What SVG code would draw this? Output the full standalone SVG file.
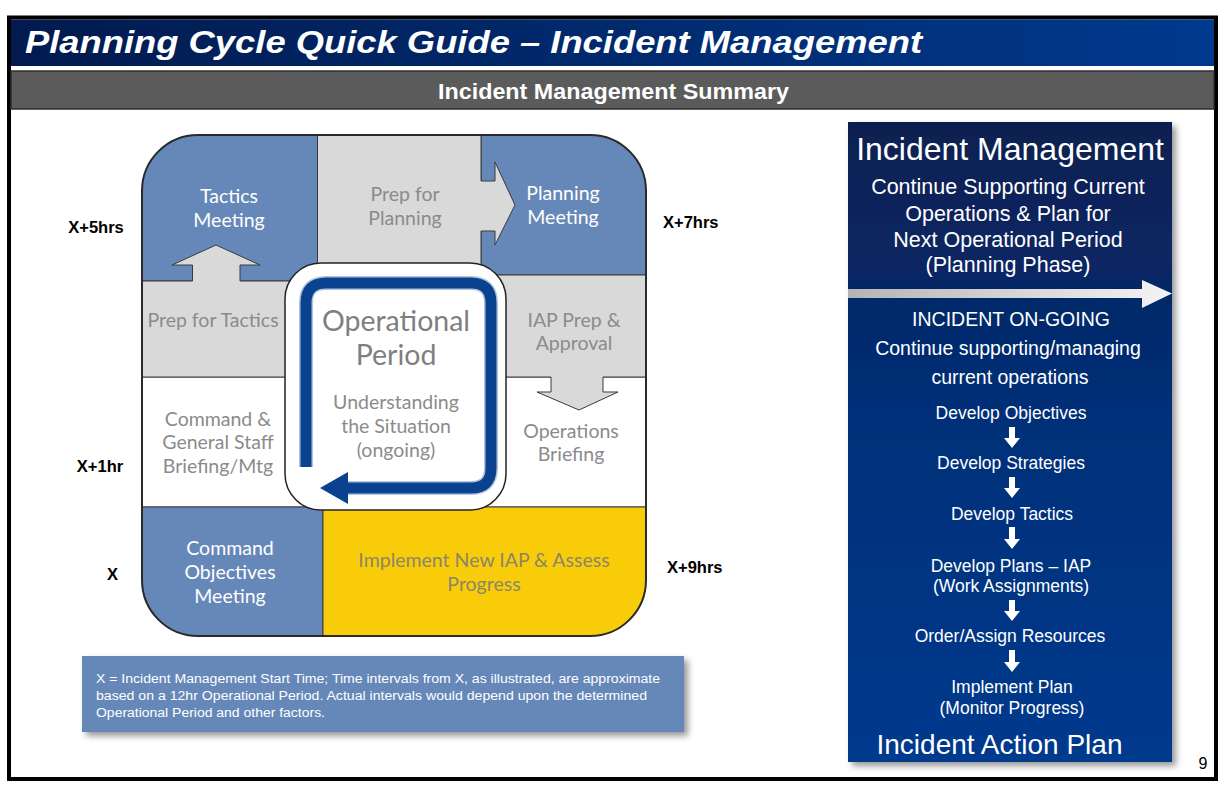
<svg xmlns="http://www.w3.org/2000/svg" width="1224" height="792" viewBox="0 0 1224 792">
<defs>
  <linearGradient id="gTitle" x1="0" y1="0" x2="1" y2="0">
    <stop offset="0" stop-color="#021a4e"/>
    <stop offset="1" stop-color="#003a8e"/>
  </linearGradient>
  <linearGradient id="gPanel" x1="0" y1="0" x2="0" y2="1">
    <stop offset="0" stop-color="#0c1f4f"/>
    <stop offset="0.45" stop-color="#022f78"/>
    <stop offset="1" stop-color="#003a8e"/>
  </linearGradient>
  <linearGradient id="gArrow" x1="0" y1="0" x2="1" y2="0">
    <stop offset="0" stop-color="#b4b4b4"/>
    <stop offset="1" stop-color="#f4f4f4"/>
  </linearGradient>
  <filter id="sh" x="-10%" y="-10%" width="125%" height="125%">
    <feDropShadow dx="4" dy="4" stdDeviation="3" flood-color="#000" flood-opacity="0.4"/>
  </filter>
  <clipPath id="clipCycle">
    <rect x="142" y="135" width="504" height="501" rx="56"/>
  </clipPath>
  <style>
    .cell { stroke: #3a3a3a; stroke-width: 1; }
    .blue { fill: #6688b8; }
    .grey { fill: #d9d9d9; }
    .white { fill: #ffffff; }
    .yellow { fill: #f9cc0a; }
    .lbl { font-family: Lato, "Noto Sans", sans-serif; font-size: 19.5px; text-anchor: middle; }
    .lg { fill: #8b8b8b; }
    .lw { fill: #ffffff; }
    .ly { fill: #8c8668; }
    .time { font-family: "Liberation Sans", Arial, sans-serif; font-weight: bold; font-size: 16.5px; fill: #000; }
    .pt { font-family: "Liberation Sans", Arial, sans-serif; fill: #ffffff; text-anchor: middle; }
    .dn { fill: #ffffff; }
  </style>
</defs>

<!-- page frame -->
<rect x="0" y="0" width="1224" height="792" fill="#ffffff"/>
<g id="frame">
  <rect x="9" y="17.5" width="1207" height="761.5" fill="#ffffff" stroke="#000" stroke-width="4"/>
  <rect x="11" y="19.5" width="1203" height="46.5" fill="url(#gTitle)"/>
  <text x="25" y="53" font-family="'Liberation Sans', Arial, sans-serif" font-weight="bold" font-style="italic" font-size="31" fill="#fff" textLength="897" lengthAdjust="spacingAndGlyphs">Planning Cycle Quick Guide – Incident Management</text>
  <rect x="11" y="71" width="1203" height="38" fill="#5b5b5b" stroke="#2f2f2f" stroke-width="1.5"/>
  <text x="613.5" y="99" font-family="'Liberation Sans', Arial, sans-serif" font-weight="bold" font-size="21.5" fill="#fff" text-anchor="middle" textLength="351" lengthAdjust="spacingAndGlyphs">Incident Management Summary</text>
  <text x="1203" y="769" font-family="'Liberation Sans', Arial, sans-serif" font-size="16" fill="#000" text-anchor="middle">9</text>
</g>

<!-- planning cycle -->
<g id="cycle">
  <g clip-path="url(#clipCycle)">
    <rect class="cell white" x="142" y="377" width="504" height="130"/>
    <rect class="cell blue" x="142" y="135" width="175.5" height="146"/>
    <rect class="cell blue" x="481" y="135" width="165" height="140"/>
    <rect class="cell blue" x="142" y="507" width="181" height="129"/>
    <rect class="cell yellow" x="323" y="507" width="323" height="129"/>
    <polygon class="cell grey" points="317.5,135 481,135 481,181 495,181 495,162 515,205 495,245 495,231 481,231 481,290 317.5,290"/>
    <polygon class="cell grey" points="142,281 192.5,281 192.5,265 172,265 216,245 260,265 240,265 240,281 300,281 300,377 142,377"/>
    <polygon class="cell grey" points="490,275 646,275 646,377 603,377 603,392 618,392 579,410 537,392 551,392 551,377 490,377"/>
  </g>
  <rect x="142" y="135" width="504" height="501" rx="56" fill="none" stroke="#2a2a2a" stroke-width="2"/>
</g>

<g id="node-tactics-meeting">
  <text class="lbl lw" x="229" y="203">Tactics</text>
  <text class="lbl lw" x="229" y="227">Meeting</text>
</g>
<g id="node-prep-planning">
  <text class="lbl lg" x="405" y="201">Prep for</text>
  <text class="lbl lg" x="405" y="225">Planning</text>
</g>
<g id="node-planning-meeting">
  <text class="lbl lw" x="563" y="200">Planning</text>
  <text class="lbl lw" x="563" y="224">Meeting</text>
</g>
<g id="node-prep-tactics">
  <text class="lbl lg" x="213" y="327">Prep for Tactics</text>
</g>
<g id="node-iap-prep">
  <text class="lbl lg" x="574" y="327">IAP Prep &amp;</text>
  <text class="lbl lg" x="574" y="350">Approval</text>
</g>
<g id="node-cgs-briefing">
  <text class="lbl lg" x="218" y="426">Command &amp;</text>
  <text class="lbl lg" x="218" y="449">General Staff</text>
  <text class="lbl lg" x="218" y="473">Briefing/Mtg</text>
</g>
<g id="node-ops-briefing">
  <text class="lbl lg" x="571" y="438">Operations</text>
  <text class="lbl lg" x="571" y="461">Briefing</text>
</g>
<g id="node-command-objectives">
  <text class="lbl lw" x="230" y="555">Command</text>
  <text class="lbl lw" x="230" y="579">Objectives</text>
  <text class="lbl lw" x="230" y="603">Meeting</text>
</g>
<g id="node-implement">
  <text class="lbl ly" x="484" y="567">Implement New IAP &amp; Assess</text>
  <text class="lbl ly" x="484" y="591">Progress</text>
</g>

<g id="node-operational-period">
  <rect x="285" y="263" width="221" height="247" rx="36" fill="#ffffff" stroke="#222" stroke-width="1.5"/>
  <path d="M306,467 V303 Q306,283 326,283 H471 Q491,283 491,303 V468 Q491,488 471,488 H344" fill="none" stroke="#7d9bc8" stroke-width="14" stroke-opacity="0.6"/>
  <path d="M306,467 V303 Q306,283 326,283 H471 Q491,283 491,303 V468 Q491,488 471,488 H344" fill="none" stroke="#0a4290" stroke-width="11"/>
  <polygon points="348,472 320,488 348,504" fill="#0a4290"/>
  <text x="396" y="331" font-family="Lato, 'Noto Sans', sans-serif" font-size="28.5" fill="#7f7f7f" text-anchor="middle">Operational</text>
  <text x="396" y="365" font-family="Lato, 'Noto Sans', sans-serif" font-size="28.5" fill="#7f7f7f" text-anchor="middle">Period</text>
  <text class="lbl lg" x="396" y="409">Understanding</text>
  <text class="lbl lg" x="396" y="433">the Situation</text>
  <text class="lbl lg" x="396" y="457">(ongoing)</text>
</g>

<g id="time-labels">
  <text class="time" x="96" y="233" text-anchor="middle">X+5hrs</text>
  <text class="time" x="100" y="472" text-anchor="middle">X+1hr</text>
  <text class="time" x="112.5" y="580" text-anchor="middle">X</text>
  <text class="time" x="663" y="228">X+7hrs</text>
  <text class="time" x="667" y="573">X+9hrs</text>
</g>

<g id="footnote">
  <rect x="82" y="656" width="602" height="76" fill="#6688b8" filter="url(#sh)"/>
  <text x="96" y="683" font-family="'Liberation Sans', Arial, sans-serif" font-size="12.5" fill="#fff" textLength="564" lengthAdjust="spacingAndGlyphs">X = Incident Management Start Time; Time intervals from X, as illustrated, are approximate</text>
  <text x="96" y="700" font-family="'Liberation Sans', Arial, sans-serif" font-size="12.5" fill="#fff" textLength="551" lengthAdjust="spacingAndGlyphs">based on a 12hr Operational Period.  Actual intervals would depend upon the determined</text>
  <text x="96" y="717" font-family="'Liberation Sans', Arial, sans-serif" font-size="12.5" fill="#fff" textLength="229" lengthAdjust="spacingAndGlyphs">Operational Period and other factors.</text>
</g>

<g id="panel">
  <rect x="848" y="122" width="324" height="640" fill="url(#gPanel)" filter="url(#sh)"/>
  <text class="pt" x="1010" y="160" font-size="32">Incident Management</text>
  <text class="pt" x="1008" y="194" font-size="21.5">Continue Supporting Current</text>
  <text class="pt" x="1008" y="221" font-size="21.5">Operations &amp; Plan for</text>
  <text class="pt" x="1008" y="247" font-size="21.5">Next Operational Period</text>
  <text class="pt" x="1008" y="272" font-size="21.5">(Planning Phase)</text>
  <polygon points="848,289 1142,289 1142,280 1172,293.5 1142,308 1142,298 848,298" fill="url(#gArrow)"/>
  <text class="pt" x="1011" y="326" font-size="19.5">INCIDENT ON-GOING</text>
  <text class="pt" x="1008" y="355" font-size="19.5">Continue supporting/managing</text>
  <text class="pt" x="1010" y="384" font-size="19.5">current operations</text>
  <text class="pt" x="1011" y="419" font-size="17.5">Develop Objectives</text>
  <text class="pt" x="1011" y="469" font-size="17.5">Develop Strategies</text>
  <text class="pt" x="1012" y="520" font-size="17.5">Develop Tactics</text>
  <text class="pt" x="1011" y="572" font-size="17.5">Develop Plans – IAP</text>
  <text class="pt" x="1011" y="592" font-size="17.5">(Work Assignments)</text>
  <text class="pt" x="1010" y="642" font-size="17.5">Order/Assign Resources</text>
  <text class="pt" x="1012" y="693" font-size="17.5">Implement Plan</text>
  <text class="pt" x="1012" y="714" font-size="17.5">(Monitor Progress)</text>
  <text class="pt" x="999.5" y="754" font-size="28">Incident Action Plan</text>
</g>

<g id="connectors">
  <path class="dn" d="M1009,427 h6 v11 h5 l-8,10 l-8,-10 h5 z"/>
  <path class="dn" d="M1009,477 h6 v11 h5 l-8,10 l-8,-10 h5 z"/>
  <path class="dn" d="M1009,527 h6 v12 h5 l-8,10 l-8,-10 h5 z"/>
  <path class="dn" d="M1009,600 h6 v11 h5 l-8,10 l-8,-10 h5 z"/>
  <path class="dn" d="M1009,650 h6 v12 h5 l-8,10 l-8,-10 h5 z"/>
</g>
</svg>
